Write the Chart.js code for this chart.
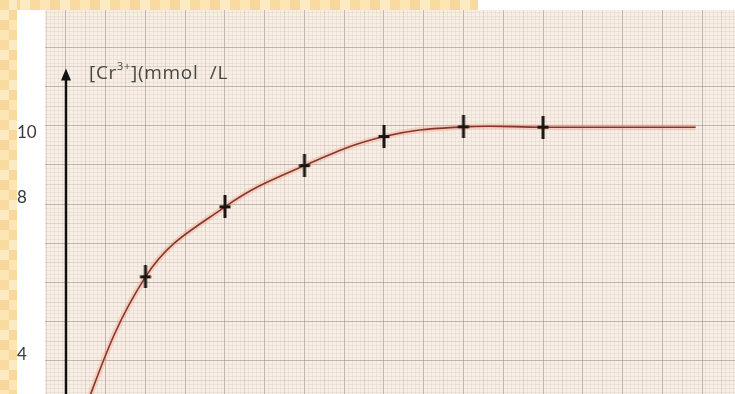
<!DOCTYPE html>
<html>
<head>
<meta charset="utf-8">
<script src="https://cdn.jsdelivr.net/npm/chart.js@4.4.1/dist/chart.umd.min.js"></script>
<style>
  html, body { margin: 0; padding: 0; background: #ffffff; }
  #c { display: block; }
</style>
</head>
<body>
<canvas id="c" width="735" height="394"></canvas>
<script>
// ---- data ----
const times = [1, 2, 3, 4, 5, 6];                       // measurement points (x)
const concentrations = [5.54, 7.71, 8.99, 9.89, 10.19, 10.18]; // [Cr3+] in mmol/L
const curveX = [0, 1, 2, 3, 4, 5, 6, 7.92];             // drawn trend curve
const curveY = [0, 5.54, 7.71, 8.99, 9.89, 10.19, 10.18, 10.18];
const yTickValues = [10, 8, 3.13];
const yTickLabels = ['10', '8', '4'];
const axisTitleMain = '[Cr';
const axisTitleSup = '3+';
const axisTitleRest = '](mmol /L';
const arrowTipValue = 12.0;

// ---- styling helpers ----
const FONT = 'Lato, "Open Sans", "DejaVu Sans", sans-serif';
const TITLE_FONT = '"Open Sans", Lato, sans-serif';

const crossMark = (function () {
  const c = document.createElement('canvas');
  c.width = 14; c.height = 23;
  const g = c.getContext('2d');
  g.fillStyle = '#1b1512';
  g.fillRect(5.5, 0, 3, 23);
  g.fillRect(1.5, 10, 11, 3);
  return c;
})();

function gridTicks(step) {
  return function (scale) {
    const out = [];
    const start = Math.ceil(scale.min / step);
    const end = Math.floor(scale.max / step);
    for (let i = start; i <= end; i++) out.push({ value: +(i * step).toFixed(4) });
    scale.ticks = out;
  };
}
function paperColor(major, medium) {
  return function (ctx) {
    const v = ctx.tick ? ctx.tick.value : 0;
    const near = (a, m) => Math.abs(a / m - Math.round(a / m)) < 1e-3;
    if (near(v, major)) return 'rgba(135,122,112,0.48)';
    if (near(v, medium)) return 'rgba(180,160,145,0.32)';
    return 'rgba(205,182,165,0.20)';
  };
}
function noPad(s) { s.paddingTop = 0; s.paddingBottom = 0; s.paddingLeft = 0; s.paddingRight = 0; }

const paperBackground = {
  id: 'paperBackground',
  beforeDraw(chart) {
    const { ctx, chartArea: a, width, height } = chart;
    ctx.save();
    ctx.fillStyle = '#ffffff';
    ctx.fillRect(0, 0, width, height);
    const tones = ['#fde6b3', '#f9da9f', '#fcebc2', '#f8d79c'];
    for (let i = 0; i * 10 < 478; i++) {
      ctx.fillStyle = tones[(i * 3) % 4];
      ctx.fillRect(i * 10, 0, Math.min(10, 478 - i * 10), 10);
    }
    for (let j = 0; j * 10 < height; j++) {
      ctx.fillStyle = tones[(j + 1) % 4];
      ctx.fillRect(0, j * 10, 9, 10);
      ctx.fillStyle = tones[(j + 2) % 4];
      ctx.fillRect(9, j * 10, 8, 10);
    }
    ctx.fillStyle = '#f7efe6';
    ctx.fillRect(a.left, a.top, a.right - a.left, a.bottom - a.top);
    ctx.restore();
  }
};

const axisDecor = {
  id: 'axisDecor',
  afterDatasetsDraw(chart) {
    const { ctx } = chart;
    const xs = chart.scales.x, ys = chart.scales.y;
    const x0 = xs.getPixelForValue(0);
    const tip = ys.getPixelForValue(arrowTipValue);
    ctx.save();
    ctx.strokeStyle = '#111';
    ctx.lineWidth = 2.5;
    ctx.beginPath();
    ctx.moveTo(x0, tip + 6);
    ctx.lineTo(x0, chart.chartArea.bottom);
    ctx.stroke();
    ctx.fillStyle = '#111';
    ctx.beginPath();
    ctx.moveTo(x0, tip);
    ctx.lineTo(x0 - 5, tip + 12);
    ctx.lineTo(x0 + 5, tip + 12);
    ctx.closePath();
    ctx.fill();
    // axis title
    ctx.fillStyle = '#474747';
    ctx.textBaseline = 'alphabetic';
    ctx.textAlign = 'left';
    try { ctx.letterSpacing = '0.7px'; } catch (e) {}
    let tx = x0 + 23, ty = tip + 10;
    ctx.font = '19px ' + TITLE_FONT;
    ctx.fillText(axisTitleMain, tx, ty);
    tx += ctx.measureText(axisTitleMain).width;
    ctx.font = '11px ' + TITLE_FONT;
    ctx.fillText(axisTitleSup, tx, ty - 9);
    tx += ctx.measureText(axisTitleSup).width;
    ctx.font = '19px ' + TITLE_FONT;
    ctx.fillText(axisTitleRest.replace(' ', '  '), tx, ty);
    ctx.restore();
  }
};

const curvePts = curveX.map((x, i) => ({ x: x, y: curveY[i] }));
const markPts = times.map((x, i) => ({ x: x, y: concentrations[i] }));

new Chart(document.getElementById('c'), {
  type: 'line',
  data: {
    datasets: [
      {
        data: markPts,
        showLine: false,
        pointStyle: crossMark,
        pointRadius: 8,
        order: 0
      },
      {
        data: curvePts,
        borderColor: 'rgb(135,55,40)',
        borderWidth: 1.6,
        pointRadius: 0,
        tension: 0.4,
        capBezierPoints: false,
        fill: false,
        order: 1
      },
      {
        data: curvePts,
        borderColor: 'rgba(238,150,130,0.32)',
        borderWidth: 6,
        pointRadius: 0,
        tension: 0.4,
        capBezierPoints: false,
        fill: false,
        order: 2
      }
    ]
  },
  options: {
    responsive: false,
    devicePixelRatio: 1,
    animation: false,
    events: [],
    layout: { autoPadding: false, padding: { left: 17, top: 10, right: 0, bottom: 0 } },
    plugins: { legend: { display: false }, tooltip: { enabled: false } },
    scales: {
      x: {
        type: 'linear',
        min: -0.264,
        max: 8.415,
        afterBuildTicks: gridTicks(0.05),
        afterFit(s) { s.height = 0; noPad(s); },
        ticks: { display: false },
        border: { display: false },
        grid: { color: paperColor(0.5, 0.25), lineWidth: 1, drawTicks: false }
      },
      y: {
        type: 'linear',
        position: 'left',
        min: 1.907,
        max: 13.814,
        afterBuildTicks(s) { s.ticks = yTickValues.map(v => ({ value: v })); },
        afterFit(s) { s.width = 28; noPad(s); },
        ticks: {
          crossAlign: 'far',
          padding: 0,
          color: '#3a3a3a',
          font: { family: FONT, size: 17 },
          callback: (v, i) => yTickLabels[i]
        },
        border: { display: false },
        grid: { display: false }
      },
      py: {
        type: 'linear',
        position: 'right',
        min: -0.842,
        max: 8.954,
        afterBuildTicks: gridTicks(0.1),
        afterFit(s) { s.width = 0; noPad(s); },
        ticks: { display: false },
        border: { display: false },
        grid: { color: paperColor(1, 0.5), lineWidth: 1, drawTicks: false }
      }
    }
  },
  plugins: [paperBackground, axisDecor]
});
</script>
</body>
</html>
